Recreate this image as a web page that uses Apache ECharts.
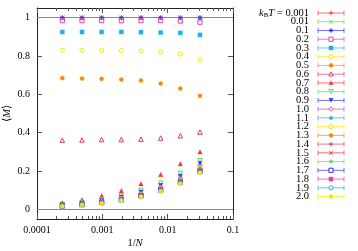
<!DOCTYPE html>
<html><head><meta charset="utf-8">
<script src="https://cdn.jsdelivr.net/npm/echarts@6/dist/echarts.min.js"></script>
<style>html,body{margin:0;padding:0;background:#fff}#c{width:358px;height:251px}</style>
</head><body><div id="c"></div>
<script>
// ---- data ----
const N = [32, 64, 128, 256, 512, 1024, 2048, 4096];
const temps = ['0.001','0.01','0.1','0.2','0.3','0.4','0.5','0.6','0.7','0.8','0.9','1.0','1.1','1.2','1.3','1.4','1.5','1.6','1.7','1.8','1.9','2.0'];
const m_0_001 = [1.000, 1.000, 1.000, 1.000, 1.000, 1.000, 1.000, 1.000];
const m_0_01  = [1.000, 1.000, 1.000, 1.000, 1.000, 1.000, 1.000, 1.000];
const m_0_1   = [0.998, 0.998, 0.998, 0.998, 0.998, 0.998, 0.998, 0.998];
const m_0_2   = [0.976, 0.982, 0.984, 0.984, 0.984, 0.984, 0.984, 0.984];
const m_0_3   = [0.910, 0.920, 0.922, 0.924, 0.925, 0.925, 0.925, 0.925];
const m_0_4   = [0.778, 0.810, 0.820, 0.825, 0.828, 0.829, 0.830, 0.830];
const m_0_5   = [0.592, 0.630, 0.656, 0.672, 0.677, 0.680, 0.682, 0.684];
const m_0_6   = [0.403, 0.384, 0.372, 0.366, 0.364, 0.364, 0.362, 0.361];
const m_0_7   = [0.300, 0.238, 0.182, 0.134, 0.097, 0.071, 0.050, 0.035];
const m_0_8   = [0.255, 0.188, 0.137, 0.099, 0.070, 0.050, 0.036, 0.026];
const m_0_9   = [0.238, 0.172, 0.124, 0.089, 0.063, 0.045, 0.032, 0.023];
const m_1_0   = [0.228, 0.164, 0.117, 0.084, 0.060, 0.042, 0.030, 0.021];
const m_1_1   = [0.221, 0.158, 0.113, 0.080, 0.057, 0.040, 0.029, 0.020];
const m_1_2   = [0.215, 0.153, 0.109, 0.078, 0.055, 0.039, 0.028, 0.020];
const m_1_3   = [0.210, 0.150, 0.107, 0.076, 0.054, 0.038, 0.027, 0.019];
const m_1_4   = [0.206, 0.147, 0.105, 0.074, 0.053, 0.037, 0.026, 0.019];
const m_1_5   = [0.203, 0.145, 0.103, 0.073, 0.052, 0.037, 0.026, 0.018];
const m_1_6   = [0.201, 0.143, 0.101, 0.072, 0.051, 0.036, 0.026, 0.018];
const m_1_7   = [0.198, 0.141, 0.100, 0.071, 0.050, 0.036, 0.025, 0.018];
const m_1_8   = [0.196, 0.139, 0.099, 0.070, 0.050, 0.035, 0.025, 0.017];
const m_1_9   = [0.194, 0.137, 0.097, 0.069, 0.049, 0.034, 0.024, 0.017];
const m_2_0   = [0.191, 0.134, 0.094, 0.066, 0.046, 0.032, 0.023, 0.016];
const seriesValues = [m_0_001,m_0_01,m_0_1,m_0_2,m_0_3,m_0_4,m_0_5,m_0_6,m_0_7,m_0_8,m_0_9,m_1_0,m_1_1,m_1_2,m_1_3,m_1_4,m_1_5,m_1_6,m_1_7,m_1_8,m_1_9,m_2_0];
const xTicks = [0.0001, 0.001, 0.01, 0.1];
const xTickLabels = ['0.0001', '0.001', '0.01', '0.1'];
const yTicks = [0, 0.2, 0.4, 0.6, 0.8, 1];
const yTickLabels = ['0', '0.2', '0.4', '0.6', '0.8', '1'];

// ---- styles ----
const palette = ['#ff3030', '#55e055', '#3030ff', '#e040a8', '#20b0f0', '#f5e800', '#ff8800', '#e03a6a'];
const P = {
  plus: 'M0,5H10M5,0V10',
  cross: 'M1,1L9,9M9,1L1,9',
  star: 'M0,5H10M5,0V10M1.5,1.5L8.5,8.5M8.5,1.5L1.5,8.5',
  square: 'M0,0H10V10H0Z',
  circle: 'M0,5A5,5 0 1,0 10,5A5,5 0 1,0 0,5Z',
  tri: 'M5,0L10,9L0,9Z',
  itri: 'M0,0L10,0L5,9Z',
  diamond: 'M5,0L10,5L5,10L0,5Z',
  pent: 'M5,0L9.76,3.45L7.94,9.05L2.06,9.05L0.24,3.45Z'
};
const POLY = {
  tri: [[5,0],[10,9],[0,9]],
  itri: [[0,0],[10,0],[5,9]],
  diamond: [[5,0],[10,5],[5,10],[0,5]],
  pent: [[5,0],[9.76,3.45],[7.94,9.05],[2.06,9.05],[0.24,3.45]]
};
const LINES = {
  plus: [[0,5,10,5],[5,0,5,10]],
  cross: [[1,1,9,9],[9,1,1,9]],
  star: [[0,5,10,5],[5,0,5,10],[1.5,1.5,8.5,8.5],[8.5,1.5,1.5,8.5]]
};
const ptypes = [
  ['plus', 'line'], ['cross', 'line'], ['star', 'line'],
  ['square', 'open'], ['square', 'fill'], ['circle', 'open'], ['circle', 'fill'],
  ['tri', 'open'], ['tri', 'fill'], ['itri', 'open'], ['itri', 'fill'],
  ['diamond', 'open'], ['diamond', 'fill'], ['pent', 'open'], ['pent', 'fill']
];
const serifFont = 'Liberation Serif';

function legendSymbol(shape, mode, cx, cy, sz, col) {
  const sc = sz / 10, ox = cx - sz / 2, oy = cy - sz / 2;
  const open = mode !== 'fill';
  const style = {stroke: col, lineWidth: open ? 1 : 0.3, fill: open ? '#fff' : col};
  if (LINES[shape]) {
    return LINES[shape].map(l => ({type: 'line', shape: {x1: ox + l[0] * sc, y1: oy + l[1] * sc, x2: ox + l[2] * sc, y2: oy + l[3] * sc}, style: {stroke: col, lineWidth: 1}, z: 101}));
  }
  if (shape === 'square') return [{type: 'rect', shape: {x: ox, y: oy, width: sz, height: sz}, style: style, z: 101}];
  if (shape === 'circle') return [{type: 'circle', shape: {cx: cx, cy: cy, r: sz / 2}, style: style, z: 101}];
  return [{type: 'polygon', shape: {points: POLY[shape].map(p => [ox + p[0] * sc, oy + p[1] * sc])}, style: style, z: 101}];
}

const series = [];
const graphic = [];
const legX = 309, legLine0 = 318, legLine1 = 344, legY0 = 13, legDy = 8.74;

temps.forEach((t, i) => {
  const col = palette[i % palette.length];
  const [shape, mode] = ptypes[i % ptypes.length];
  const isLine = mode === 'line';
  const isOpen = mode === 'open';
  const sz = isLine ? 4.5 : (shape === 'square' || shape === 'circle' ? 4.2 : 4.5);
  const itemStyle = {
    color: (isLine || isOpen) ? 'rgba(255,255,255,0)' : col,
    borderColor: col,
    borderWidth: (isLine || isOpen) ? 1 : 0.3,
    opacity: 1
  };
  const s = {
    type: 'scatter',
    name: t,
    xAxisIndex: 0, yAxisIndex: 0,
    symbol: 'path://' + P[shape],
    symbolSize: sz,
    itemStyle: itemStyle,
    data: N.map((n, j) => [1 / n, seriesValues[i][j]]),
    z: 3 + i * 0.01
  };
  if (i === 0) {
    s.markLine = {
      silent: true, symbol: 'none', label: {show: false},
      lineStyle: {color: '#8a8a8a', type: 'solid', width: 1},
      data: [{yAxis: 0}, {yAxis: 1}],
      z: 1
    };
  }
  series.push(s);

  const y = legY0 + i * legDy;
  graphic.push({
    type: 'text', x: legX, y: y, z: 100,
    style: i === 0 ? {
      text: '{i|k}{s|B}{i|T} = ' + t,
      rich: {
        i: {fontFamily: serifFont, fontStyle: 'italic', fontSize: 10.5, fill: '#000'},
        s: {fontFamily: serifFont, fontSize: 7, fill: '#000', padding: [5, 0, 0, 0]}
      },
      fontFamily: serifFont, fontSize: 10.5, fill: '#000',
      align: 'right', verticalAlign: 'middle'
    } : {
      text: t, fontFamily: serifFont, fontSize: 10.5, fill: '#000',
      align: 'right', verticalAlign: 'middle'
    }
  });
  [[legLine0, y - 2.5, legLine0, y + 2.5], [legLine0, y, legLine1, y], [legLine1, y - 2.5, legLine1, y + 2.5]].forEach(l => {
    graphic.push({type: 'line', z: 100, shape: {x1: l[0], y1: l[1], x2: l[2], y2: l[3]}, style: {stroke: col, lineWidth: 1, opacity: 0.7}});
  });
  legendSymbol(shape, mode, (legLine0 + legLine1) / 2, y, sz, col).forEach(e => graphic.push(e));
});

const minorX = [];
for (let d = -4; d < -1; d++) for (let k = 2; k <= 9; k++) minorX.push(+(k * Math.pow(10, d)).toPrecision(3));

const xBase = {type: 'log', logBase: 10, min: 0.0001, max: 0.1, gridIndex: 0, splitLine: {show: false}};
const tickStyle = {color: '#555', width: 1};

const option = {
  animation: false,
  backgroundColor: '#fff',
  grid: {left: 37, top: 8, width: 196, height: 211, containLabel: false, outerBoundsMode: 'none'},
  xAxis: [
    Object.assign({}, xBase, {
      position: 'bottom',
      axisLine: {show: true, onZero: false, lineStyle: {color: '#222', width: 1}},
      axisTick: {show: true, inside: true, length: 5, lineStyle: tickStyle, customValues: xTicks},
      axisLabel: {show: true, customValues: xTicks, margin: 6, color: '#000', fontFamily: serifFont, fontSize: 10,
        formatter: v => { const k = xTicks.findIndex(x => Math.abs(Math.log10(x) - Math.log10(v)) < 1e-6); return k >= 0 ? xTickLabels[k] : ''; }},
      name: '1/{i|N}', nameLocation: 'middle', nameGap: 19, nameMoveOverlap: false,
      nameTextStyle: {color: '#000', fontFamily: serifFont, fontSize: 10.5,
        rich: {i: {fontFamily: serifFont, fontStyle: 'italic', fontSize: 10.5, color: '#000'}}}
    }),
    Object.assign({}, xBase, {
      position: 'bottom',
      axisLine: {show: false, onZero: false},
      axisTick: {show: true, inside: true, length: 3, lineStyle: tickStyle, customValues: minorX},
      axisLabel: {show: false}
    }),
    Object.assign({}, xBase, {
      position: 'top',
      axisLine: {show: true, onZero: false, lineStyle: {color: '#222', width: 1}},
      axisTick: {show: true, inside: true, length: 5, lineStyle: tickStyle, customValues: xTicks},
      axisLabel: {show: false}
    }),
    Object.assign({}, xBase, {
      position: 'top',
      axisLine: {show: false, onZero: false},
      axisTick: {show: true, inside: true, length: 3, lineStyle: tickStyle, customValues: minorX},
      axisLabel: {show: false}
    })
  ],
  yAxis: [
    {
      type: 'value', min: -0.05, max: 1.05, position: 'left',
      splitLine: {show: false},
      axisLine: {show: true, onZero: false, lineStyle: {color: '#222', width: 1}},
      axisTick: {show: true, inside: true, length: 5, lineStyle: tickStyle, customValues: yTicks},
      axisLabel: {show: true, customValues: yTicks, margin: 7, color: '#000', fontFamily: serifFont, fontSize: 10,
        formatter: v => { const k = yTicks.findIndex(x => Math.abs(x - v) < 1e-9); return k >= 0 ? yTickLabels[k] : ''; }},
      name: '\u27E8{i|M}\u27E9', nameLocation: 'middle', nameGap: 24, nameRotate: 90, nameMoveOverlap: false,
      nameTextStyle: {color: '#000', fontFamily: serifFont, fontSize: 10.5, lineHeight: 12,
        rich: {i: {fontFamily: serifFont, fontStyle: 'italic', fontSize: 10.5, color: '#000', lineHeight: 12}}}
    },
    {
      type: 'value', min: -0.05, max: 1.05, position: 'right',
      splitLine: {show: false},
      axisLine: {show: true, onZero: false, lineStyle: {color: '#222', width: 1}},
      axisTick: {show: true, inside: true, length: 5, lineStyle: tickStyle, customValues: yTicks},
      axisLabel: {show: false}
    }
  ],
  graphic: graphic,
  series: series
};
const chart = echarts.init(document.getElementById('c'), null, {renderer: 'canvas'});
chart.setOption(option);
</script>
</body></html>
